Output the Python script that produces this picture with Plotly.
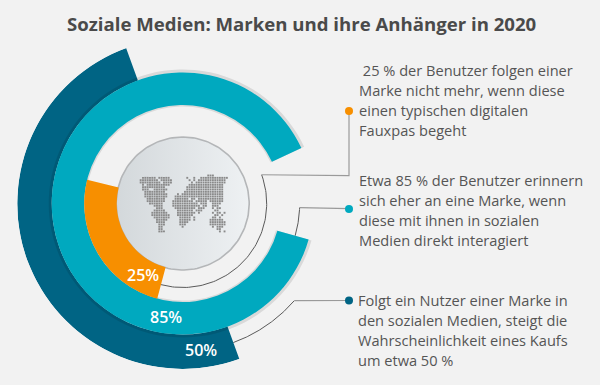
import numpy as np
import plotly.graph_objects as go

title = "Soziale Medien: Marken und ihre Anhänger in 2020"
ring_labels = ["25%", "85%", "50%"]
ring_colors = ["#f78f00", "#00a9bf", "#006484"]
# arc lengths as drawn in the reference, in percent of a full turn
ring_arc_percent = [24.7, 88.6, 50.0]
ring_start_deg = [195, 106, 160]
ring_inner = [66, 98.5, 131]
ring_outer = [98.5, 131, 165.5]
label_xy = [(142.5, 275), (166, 317), (201, 350)]

text_blocks = [
    (357, 70, [" 25 % der Benutzer folgen einer", "Marke nicht mehr, wenn diese",
               "einen typischen digitalen", "Fauxpas begeht"]),
    (357, 180, ["Etwa 85 % der Benutzer erinnern", "sich eher an eine Marke, wenn",
                "diese mit ihnen in sozialen", "Medien direkt interagiert"]),
    (355.5, 300, ["Folgt ein Nutzer einer Marke in", "den sozialen Medien, steigt die",
                  "Wahrscheinlichkeit eines Kaufs", "um etwa 50 %"]),
]

# connector: arc radius, arc from/to angle (clockwise from top), then elbow points
connectors = [
    (84, 195, 70, [(349, 175.7), (349, 111)], ring_colors[0], (349, 111)),
    (117, 106, 92, [(349, 208.7)], ring_colors[1], (349, 209)),
    (148, 160, 131, [(349, 300.5)], ring_colors[2], (349, 300.5)),
]

world_rows = [
    "...............................###......",
    "...######.#####.......#..#..############",
    "..########.#####.......#.#.############.",
    "..#########.####........#.#############.",
    "...#.##########........###############..",
    "...##########.........################..",
    "...###..######........################..",
    "....#########........#################..",
    "....##########....#.##################..",
    "....##########...#####################..",
    ".....########....######.##.###########..",
    ".....########...#########.#####.######..",
    "......######....###########.###..####...",
    "........####....############.##..###....",
    ".........###.....#########.###...#.##...",
    "........#####.....#######.###.....##....",
    ".......#######....########.#.....#.##.#.",
    ".......########...#######.........##.#..",
    "........#######....#####.#.......##.#...",
    ".........#####.....#####.#......######..",
    ".........####......####.........#######.",
    "..........###......###..........#######.",
    "..........##........#............#.###..",
    "..........##.......................##...",
    "..........###.......................#.#.",
]

CX, CY, R_MAX = 182.7, 203.5, 165.5
W, H = 600, 385


def arc(r, a0, a1, n=80):
    a = np.radians(np.linspace(a0, a1, n))
    return CX + r * np.sin(a), CY - r * np.cos(a)


fig = go.Figure()

# centre disc
dx, dy = arc(66.5, 0, 360, 160)
fig.add_trace(go.Scatter(x=dx, y=dy, mode="lines", fill="toself",
                         line=dict(color="#b4b6b8", width=1.6),
                         fillgradient=dict(type="horizontal",
                                           colorscale=[[0, "#d3d8db"], [1, "#eef1f3"]]),
                         hoverinfo="skip", showlegend=False))

# world map
mx, my = [], []
for j, row in enumerate(world_rows):
    for i, c in enumerate(row):
        if c == "#":
            mx.append(136 + i * 2.33)
            my.append(175.5 + j * 2.33)
fig.add_trace(go.Scatter(x=mx, y=my, mode="markers",
                         marker=dict(symbol="square", size=1.9, color="#8a8a8a", line=dict(width=0)),
                         hoverinfo="skip", showlegend=False))

# connectors
for r, a0, a1, pts, col, dot in connectors:
    ax, ay = arc(r, a0, a1)
    fig.add_trace(go.Scatter(x=ax, y=ay, mode="lines", line=dict(color="#5a5a5a", width=1),
                             hoverinfo="skip", showlegend=False))
    fig.add_trace(go.Scatter(x=[ax[-1]] + [p[0] for p in pts], y=[ay[-1]] + [p[1] for p in pts],
                             mode="lines", line=dict(color="#9a9a9a", width=1.2),
                             hoverinfo="skip", showlegend=False))
    fig.add_trace(go.Scatter(x=[dot[0]], y=[dot[1]], mode="markers",
                             marker=dict(size=8, color=col, line=dict(width=0)),
                             hoverinfo="skip", showlegend=False))


def ring(inner, outer, start, pct, color):
    sweep = pct * 3.6
    fig.add_trace(go.Barpolar(r=[outer - inner], base=[inner], theta=[start + sweep / 2],
                              width=[sweep], marker=dict(color=color, line=dict(width=0)),
                              hoverinfo="skip", showlegend=False))


# dark ring, shadow, cyan ring, orange ring
ring(ring_inner[2], ring_outer[2], ring_start_deg[2], ring_arc_percent[2], ring_colors[2])
ring(ring_inner[1] - 1.5, ring_outer[1] + 3, ring_start_deg[1], ring_arc_percent[1], "rgba(0,0,0,0.10)")
ring(ring_inner[1], ring_outer[1], ring_start_deg[1], ring_arc_percent[1], ring_colors[1])
ring(ring_inner[0], ring_outer[0], ring_start_deg[0], ring_arc_percent[0], ring_colors[0])

ann = [dict(x=W / 2 + 1.7, y=23, text=f"<b>{title}</b>", showarrow=False, xanchor="center",
            yanchor="middle", font=dict(family="Open Sans", size=18.6, color="#4a4a4a"))]
for (x, y), t in zip(label_xy, ring_labels):
    ann.append(dict(x=x, y=y, text=t, showarrow=False, xanchor="center", yanchor="middle",
                    font=dict(family="Open Sans", size=16, color="white", weight=600)))
for x, y0, lines in text_blocks:
    for k, line in enumerate(lines):
        ann.append(dict(x=x, y=y0 + k * 20, text=line.replace(" ", "\u00a0"), showarrow=False,
                        xanchor="left", yanchor="middle",
                        font=dict(family="Open Sans", size=14.6, color="#555555")))

fig.update_layout(
    width=W, height=H, margin=dict(l=0, r=0, t=0, b=0),
    paper_bgcolor="#f2f2f2", plot_bgcolor="rgba(0,0,0,0)", showlegend=False,
    xaxis=dict(range=[0, W], visible=False, fixedrange=True),
    yaxis=dict(range=[H, 0], visible=False, fixedrange=True),
    annotations=ann,
    polar=dict(
        domain=dict(x=[(CX - R_MAX) / W, (CX + R_MAX) / W],
                    y=[(H - CY - R_MAX) / H, (H - CY + R_MAX) / H]),
        bgcolor="rgba(0,0,0,0)", barmode="overlay", bargap=0,
        radialaxis=dict(range=[0, R_MAX], visible=False),
        angularaxis=dict(direction="clockwise", rotation=90, visible=False),
    ),
)
fig.write_html("out.html", config=dict(displayModeBar=False),
               post_script="document.body.style.margin='0';document.documentElement.style.overflow='hidden';")
